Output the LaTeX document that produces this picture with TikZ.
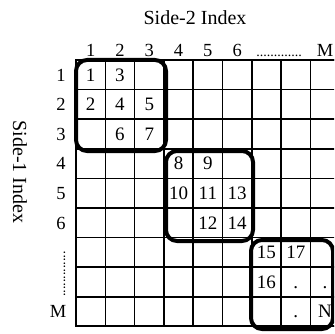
\documentclass[tikz,border=0pt]{standalone}
\usepackage{fontspec}
\setmainfont{Liberation Serif}
\begin{document}
\begin{tikzpicture}[x=1pt,y=-1pt,
  gridline/.style={line width=1.5pt},
  outerline/.style={line width=2pt},
  blockbox/.style={line width=4pt,rounded corners=11pt},
  cellnum/.style={inner sep=0pt,text height=12.5pt,text depth=0pt,anchor=center,font=\fontsize{19}{19}\selectfont},
  idxlabel/.style={inner sep=0pt,text height=12.5pt,text depth=0pt,anchor=center,font=\fontsize{18.5}{19}\selectfont},
  dotline/.style={inner sep=0pt,anchor=base,font=\fontsize{14}{14}\selectfont},
  axistitle/.style={inner sep=0pt,font=\fontsize{20}{20}\selectfont}]
\useasboundingbox (0,0) rectangle (334,334);
\clip (0,0) rectangle (334,334);
% cell centre coordinates
\foreach \r in {1,...,9}{
  \foreach \c in {1,...,9}{
    \coordinate (p-\r-\c) at ({76+(\c-0.5)*29.3},{60+(\r-0.5)*29.6});
  }
}
% grid
\foreach \i in {0,...,9}{
  \draw[gridline] ({76+\i*29.3},60) -- ({76+\i*29.3},326.4);
  \draw[gridline] (76,{60+\i*29.6}) -- (339.7,{60+\i*29.6});
}
\draw[outerline] (339.7,60) -- (76,60) -- (76,326.4) -- (339.7,326.4);
% blocks
\draw[blockbox] (76,60) rectangle (166,151);
\draw[blockbox] (166,151) rectangle (253,241);
\draw[blockbox] (251,240) rectangle (333,329);
% titles
\node[axistitle] (top) at (195,18) {Side-2 Index};
\node[axistitle,rotate=-90] (side) at (20,172) {Side-1 Index};
% column labels
\foreach \c in {1,...,6}{
  \node[idxlabel] (col\c) at ({76+(\c-0.5)*29.3},50.5) {\c};
}
\node[dotline] (coldots) at (279,56.5) {.............};
\node[idxlabel] (colM) at ({76+8.5*29.3},50.5) {M};
% row labels
\foreach \r in {1,...,6}{
  \node[idxlabel] (row\r) at (61,{60+(\r-0.5)*29.6}) {\r};
}
\node[dotline,rotate=90] (rowdots) at (65,274) {.............};
\node[idxlabel] (rowM) at (58,{60+8.5*29.6}) {M};
% cell entries
\node[cellnum] (n1) at (p-1-1) {1};
\node[cellnum] (n3) at (p-1-2) {3};
\node[cellnum] (n2) at (p-2-1) {2};
\node[cellnum] (n4) at (p-2-2) {4};
\node[cellnum] (n5) at (p-2-3) {5};
\node[cellnum] (n6) at (p-3-2) {6};
\node[cellnum] (n7) at (p-3-3) {7};
\node[cellnum] (n8) at (p-4-4) {8};
\node[cellnum] (n9) at (p-4-5) {9};
\node[cellnum] (n10) at (p-5-4) {10};
\node[cellnum] (n11) at (p-5-5) {11};
\node[cellnum] (n13) at (p-5-6) {13};
\node[cellnum] (n12) at (p-6-5) {12};
\node[cellnum] (n14) at (p-6-6) {14};
\node[cellnum] (n15) at (p-7-7) {15};
\node[cellnum] (n17) at (p-7-8) {17};
\node[cellnum] (n16) at (p-8-7) {16};
\node[cellnum] (d1) at (p-8-8) {.};
\node[cellnum] (d2) at (p-8-9) {.};
\node[cellnum] (d3) at (p-9-8) {.};
\node[cellnum] (nN) at (p-9-9) {N};
\end{tikzpicture}
\end{document}
